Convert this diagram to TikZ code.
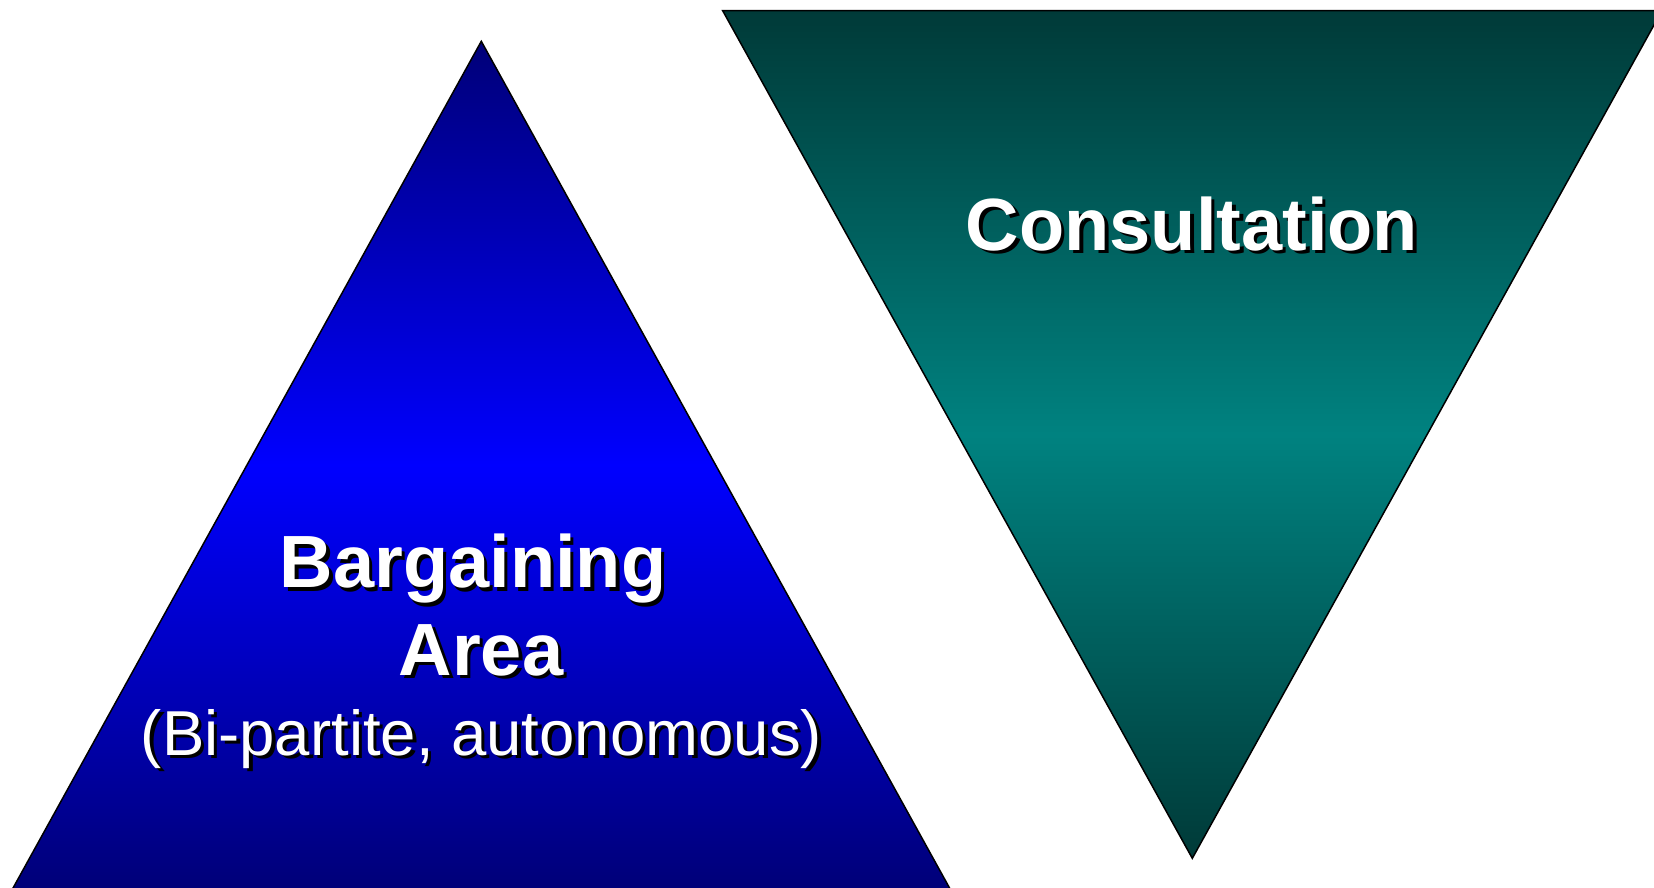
\documentclass[tikz,border=0pt]{standalone}
\usepackage{fontspec}
\setmainfont{Liberation Sans}
\definecolor{navyA}{RGB}{0,0,120}
\definecolor{blueM}{RGB}{0,0,255}
\definecolor{tealA}{RGB}{0,58,56}
\definecolor{tealM}{RGB}{0,130,128}
\tikzset{
  tri/.style={draw=black, line width=1.5pt, line join=miter},
  bigtxt/.style={inner sep=0pt, anchor=base, font=\fontsize{74}{80}\selectfont\bfseries},
  subtxt/.style={inner sep=0pt, anchor=base, font=\fontsize{63.5}{70}\selectfont},
}
\newcommand\shtxt[4]{%
  \node[#2, text=black] at ([shift={(3.5,3.5)}]#3) {#4};
  \node[#2, text=white] (#1) at (#3) {#4};}
\begin{document}
\begin{tikzpicture}[x=1pt,y=-1pt]
\useasboundingbox (0,0) rectangle (1654,887);
\begin{scope}
\clip (0,0) rectangle (1654,887);
\path[tri, top color=navyA, bottom color=navyA, middle color=blueM] (481.3,41.3) -- (12.5,889) -- (950.1,889) -- cycle;
\path[tri, top color=tealA, bottom color=tealA, middle color=tealM] (722.7,10.7) -- (1661.9,10.7) -- (1192.3,858.3) -- cycle;
\end{scope}
\coordinate (pb) at (473,587.5);
\coordinate (pa) at (481,675);
\coordinate (pp) at (481.5,755);
\coordinate (pc) at (1192,250);
\shtxt{barg}{bigtxt}{pb}{Bargaining}
\shtxt{area}{bigtxt}{pa}{Area}
\shtxt{paren}{subtxt}{pp}{(Bi-partite, autonomous)}
\shtxt{cons}{bigtxt}{pc}{Consultation}
\end{tikzpicture}
\end{document}
